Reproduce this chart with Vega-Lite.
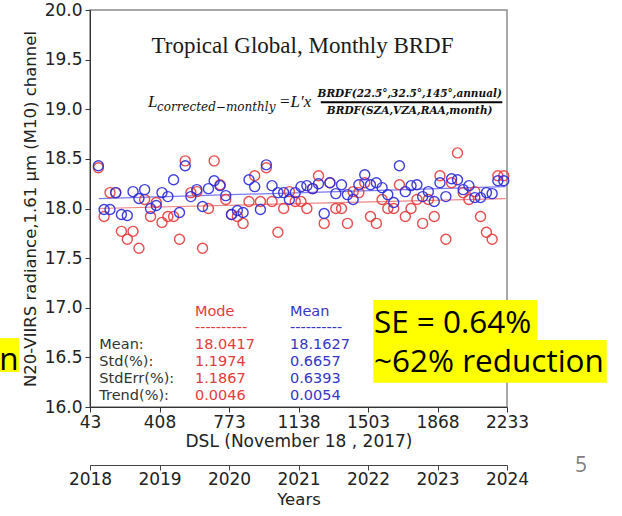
{
  "$schema": "https://vega.github.io/schema/vega-lite/v6.json",
  "width": 417,
  "height": 397,
  "autosize": {"type": "none"},
  "padding": {"left": 90, "top": 10, "right": 115, "bottom": 109},
  "background": "white",
  "config": {
    "view": {"stroke": "#8a8a8a", "strokeWidth": 1.5},
    "font": "DejaVu Sans",
    "axis": {"grid": false, "labelFont": "DejaVu Sans", "titleFont": "DejaVu Sans", "labelOverlap": false}
  },
  "datasets": {
    "monthly": [
      {"dsl": 87, "mode": 18.41, "mean": 18.43},
      {"dsl": 117, "mode": 17.92, "mean": 17.99},
      {"dsl": 148, "mode": 18.16, "mean": 17.99},
      {"dsl": 178, "mode": 18.16, "mean": 18.16},
      {"dsl": 208, "mode": 17.77, "mean": 17.94},
      {"dsl": 239, "mode": 17.69, "mean": 17.93},
      {"dsl": 269, "mode": 17.77, "mean": 18.17},
      {"dsl": 300, "mode": 17.60, "mean": 18.10},
      {"dsl": 330, "mode": 18.09, "mean": 18.19},
      {"dsl": 361, "mode": 17.92, "mean": 18.00},
      {"dsl": 391, "mode": 18.06, "mean": 18.03},
      {"dsl": 421, "mode": 17.86, "mean": 18.16},
      {"dsl": 452, "mode": 17.92, "mean": 18.12},
      {"dsl": 482, "mode": 17.92, "mean": 18.29},
      {"dsl": 513, "mode": 17.69, "mean": 17.96},
      {"dsl": 543, "mode": 18.48, "mean": 18.43},
      {"dsl": 573, "mode": 18.16, "mean": 18.12},
      {"dsl": 604, "mode": 18.17, "mean": 18.19},
      {"dsl": 634, "mode": 17.60, "mean": 18.02},
      {"dsl": 665, "mode": 18.00, "mean": 18.20},
      {"dsl": 695, "mode": 18.48, "mean": 18.28},
      {"dsl": 726, "mode": 18.24, "mean": 18.23},
      {"dsl": 756, "mode": 18.09, "mean": 18.13},
      {"dsl": 786, "mode": 17.94, "mean": 17.94},
      {"dsl": 817, "mode": 17.92, "mean": 17.98},
      {"dsl": 847, "mode": 17.85, "mean": 17.96},
      {"dsl": 878, "mode": 18.07, "mean": 18.29},
      {"dsl": 908, "mode": 18.33, "mean": 18.22},
      {"dsl": 938, "mode": 18.07, "mean": 17.99},
      {"dsl": 969, "mode": 18.41, "mean": 18.44},
      {"dsl": 999, "mode": 18.07, "mean": 18.23},
      {"dsl": 1030, "mode": 17.76, "mean": 18.16},
      {"dsl": 1060, "mode": 18.00, "mean": 18.16},
      {"dsl": 1090, "mode": 18.17, "mean": 18.09},
      {"dsl": 1121, "mode": 18.07, "mean": 18.16},
      {"dsl": 1151, "mode": 18.07, "mean": 18.22},
      {"dsl": 1182, "mode": 18.00, "mean": 18.23},
      {"dsl": 1212, "mode": 18.20, "mean": 18.20},
      {"dsl": 1243, "mode": 18.33, "mean": 18.25},
      {"dsl": 1273, "mode": 17.85, "mean": 17.95},
      {"dsl": 1303, "mode": 18.26, "mean": 18.26},
      {"dsl": 1334, "mode": 18.00, "mean": 18.15},
      {"dsl": 1364, "mode": 18.00, "mean": 18.24},
      {"dsl": 1395, "mode": 17.85, "mean": 18.14},
      {"dsl": 1425, "mode": 18.17, "mean": 18.09},
      {"dsl": 1455, "mode": 18.16, "mean": 18.24},
      {"dsl": 1486, "mode": 18.26, "mean": 18.34},
      {"dsl": 1516, "mode": 17.92, "mean": 18.24},
      {"dsl": 1547, "mode": 17.85, "mean": 18.26},
      {"dsl": 1577, "mode": 18.09, "mean": 18.21},
      {"dsl": 1607, "mode": 18.00, "mean": 18.14},
      {"dsl": 1638, "mode": 18.00, "mean": 18.06},
      {"dsl": 1668, "mode": 18.24, "mean": 18.43},
      {"dsl": 1699, "mode": 17.92, "mean": 18.17},
      {"dsl": 1729, "mode": 18.00, "mean": 18.23},
      {"dsl": 1760, "mode": 18.09, "mean": 18.24},
      {"dsl": 1790, "mode": 17.85, "mean": 18.12},
      {"dsl": 1820, "mode": 18.09, "mean": 18.17},
      {"dsl": 1851, "mode": 17.92, "mean": 18.07},
      {"dsl": 1881, "mode": 18.33, "mean": 18.26},
      {"dsl": 1912, "mode": 17.69, "mean": 18.12},
      {"dsl": 1942, "mode": 18.26, "mean": 18.30},
      {"dsl": 1973, "mode": 18.56, "mean": 18.29},
      {"dsl": 2003, "mode": 18.16, "mean": 18.19},
      {"dsl": 2033, "mode": 18.09, "mean": 18.23},
      {"dsl": 2064, "mode": 18.17, "mean": 18.11},
      {"dsl": 2094, "mode": 17.92, "mean": 18.11},
      {"dsl": 2125, "mode": 17.76, "mean": 18.16},
      {"dsl": 2155, "mode": 17.69, "mean": 18.15},
      {"dsl": 2185, "mode": 18.33, "mean": 18.28},
      {"dsl": 2216, "mode": 18.33, "mean": 18.28}
    ],
    "fits": [
      {"dsl": 90, "mode_fit": 18.00, "mean_fit": 18.10},
      {"dsl": 2225, "mode_fit": 18.10, "mean_fit": 18.22}
    ],
    "years": [{"year": 2018}, {"year": 2024}]
  },
  "data": {"values": [{}]},
  "layer": [
    {
      "layer": [
        {
          "data": {"name": "fits"},
          "mark": {"type": "line", "color": "#f08585", "strokeWidth": 1.2},
          "encoding": {
            "x": {
              "field": "dsl", "type": "quantitative",
              "scale": {"domain": [43, 2233], "nice": false, "zero": false},
              "axis": {
                "values": [43, 408, 773, 1138, 1503, 1868, 2233],
                "format": "d",
                "labelFlush": false,
                "labelFontSize": 17,
                "labelColor": "#222",
                "labelPadding": 2,
                "tickSize": 5,
                "tickColor": "#333",
                "domainColor": "#333",
                "title": "DSL (November 18 , 2017)",
                "titleFontSize": 17,
                "titleFontWeight": "normal",
                "titleColor": "#222",
                "titlePadding": 3
              }
            },
            "y": {
              "field": "mode_fit", "type": "quantitative",
              "scale": {"domain": [16, 20], "nice": false, "zero": false},
              "axis": {
                "values": [16, 16.5, 17, 17.5, 18, 18.5, 19, 19.5, 20],
                "format": ".1f",
                "labelFontSize": 17,
                "labelColor": "#222",
                "labelPadding": 3,
                "tickSize": 5,
                "tickColor": "#333",
                "domainColor": "#333",
                "title": "N20-VIIRS radiance,1.61 µm (M10) channel",
                "titleFontSize": 16.5,
                "titleFontWeight": "normal",
                "titleColor": "#222",
                "titlePadding": 6
              }
            }
          }
        },
        {
          "data": {"name": "fits"},
          "mark": {"type": "line", "color": "#7a7af0", "strokeWidth": 1.2},
          "encoding": {
            "x": {"field": "dsl", "type": "quantitative"},
            "y": {"field": "mean_fit", "type": "quantitative"}
          }
        },
        {
          "data": {"name": "monthly"},
          "mark": {"type": "point", "filled": false, "shape": "circle", "size": 100, "strokeWidth": 1.4, "color": "#e83a3a", "opacity": 0.9},
          "encoding": {
            "x": {"field": "dsl", "type": "quantitative"},
            "y": {"field": "mode", "type": "quantitative"}
          }
        },
        {
          "data": {"name": "monthly"},
          "mark": {"type": "point", "filled": false, "shape": "circle", "size": 100, "strokeWidth": 1.4, "color": "#2b2bdc", "opacity": 0.9},
          "encoding": {
            "x": {"field": "dsl", "type": "quantitative"},
            "y": {"field": "mean", "type": "quantitative"}
          }
        },
        {
          "mark": {"type": "text", "text": "Tropical Global, Monthly BRDF", "font": "Liberation Serif", "fontSize": 23, "align": "center", "baseline": "alphabetic", "color": "#1a1a1a"},
          "encoding": {"x": {"datum": 1159, "type": "quantitative"}, "y": {"datum": 19.567, "type": "quantitative"}}
        },
        {
          "mark": {"type": "text", "text": "L", "font": "Liberation Serif", "fontStyle": "italic", "fontSize": 17, "align": "left", "baseline": "alphabetic", "color": "#111"},
          "encoding": {"x": {"datum": 347, "type": "quantitative"}, "y": {"datum": 19.018, "type": "quantitative"}}
        },
        {
          "mark": {"type": "text", "text": "corrected−monthly", "font": "DejaVu Serif", "fontStyle": "italic", "fontSize": 12, "align": "left", "baseline": "alphabetic", "color": "#111"},
          "encoding": {"x": {"datum": 395, "type": "quantitative"}, "y": {"datum": 18.985, "type": "quantitative"}}
        },
        {
          "mark": {"type": "text", "text": "=L′x", "font": "Liberation Serif", "fontStyle": "italic", "fontSize": 17, "align": "left", "baseline": "alphabetic", "color": "#111"},
          "encoding": {"x": {"datum": 1036, "type": "quantitative"}, "y": {"datum": 19.018, "type": "quantitative"}}
        },
        {
          "mark": {"type": "text", "text": "BRDF(22.5°,32.5°,145°,annual)", "font": "DejaVu Serif", "fontStyle": "italic", "fontWeight": "bold", "fontSize": 10.5, "align": "center", "baseline": "alphabetic", "color": "#111"},
          "encoding": {"x": {"datum": 1722, "type": "quantitative"}, "y": {"datum": 19.126, "type": "quantitative"}}
        },
        {
          "mark": {"type": "rule", "color": "#000", "strokeWidth": 2},
          "encoding": {
            "x": {"datum": 1255, "type": "quantitative"},
            "x2": {"datum": 2208},
            "y": {"datum": 19.07, "type": "quantitative"}
          }
        },
        {
          "mark": {"type": "text", "text": "BRDF(SZA,VZA,RAA,month)", "font": "DejaVu Serif", "fontStyle": "italic", "fontWeight": "bold", "fontSize": 10.5, "align": "center", "baseline": "alphabetic", "color": "#111"},
          "encoding": {"x": {"datum": 1722, "type": "quantitative"}, "y": {"datum": 18.949, "type": "quantitative"}}
        },
        {
          "mark": {"type": "text", "text": "Mode", "fontSize": 14.5, "align": "left", "baseline": "alphabetic", "color": "#e23b3b"},
          "encoding": {"x": {"datum": 594, "type": "quantitative"}, "y": {"datum": 16.917, "type": "quantitative"}}
        },
        {
          "mark": {"type": "text", "text": "----------", "fontSize": 14.5, "align": "left", "baseline": "alphabetic", "color": "#e23b3b"},
          "encoding": {"x": {"datum": 594, "type": "quantitative"}, "y": {"datum": 16.756, "type": "quantitative"}}
        },
        {
          "mark": {"type": "text", "text": "Mean", "fontSize": 14.5, "align": "left", "baseline": "alphabetic", "color": "#3535c8"},
          "encoding": {"x": {"datum": 1093, "type": "quantitative"}, "y": {"datum": 16.917, "type": "quantitative"}}
        },
        {
          "mark": {"type": "text", "text": "----------", "fontSize": 14.5, "align": "left", "baseline": "alphabetic", "color": "#3535c8"},
          "encoding": {"x": {"datum": 1093, "type": "quantitative"}, "y": {"datum": 16.756, "type": "quantitative"}}
        },
        {
          "mark": {"type": "text", "text": ["Mean:", "Std(%):", "StdErr(%):", "Trend(%):"], "lineHeight": 17, "fontSize": 14.5, "align": "left", "baseline": "alphabetic", "color": "#333"},
          "encoding": {"x": {"datum": 92, "type": "quantitative"}, "y": {"datum": 16.584, "type": "quantitative"}}
        },
        {
          "mark": {"type": "text", "text": ["18.0417", "1.1974", "1.1867", "0.0046"], "lineHeight": 17, "fontSize": 14.5, "align": "left", "baseline": "alphabetic", "color": "#e23b3b"},
          "encoding": {"x": {"datum": 594, "type": "quantitative"}, "y": {"datum": 16.584, "type": "quantitative"}}
        },
        {
          "mark": {"type": "text", "text": ["18.1627", "0.6657", "0.6393", "0.0054"], "lineHeight": 17, "fontSize": 14.5, "align": "left", "baseline": "alphabetic", "color": "#3535c8"},
          "encoding": {"x": {"datum": 1093, "type": "quantitative"}, "y": {"datum": 16.584, "type": "quantitative"}}
        },
        {
          "mark": {"type": "rect", "color": "#ffff00"},
          "encoding": {
            "x": {"datum": 1531, "type": "quantitative"}, "x2": {"datum": 2392},
            "y": {"datum": 17.078, "type": "quantitative"}, "y2": {"datum": 16.675}
          }
        },
        {
          "mark": {"type": "rect", "color": "#ffff00"},
          "encoding": {
            "x": {"datum": 1531, "type": "quantitative"}, "x2": {"datum": 2757},
            "y": {"datum": 16.675, "type": "quantitative"}, "y2": {"datum": 16.245}
          }
        },
        {
          "mark": {"type": "rect", "color": "#ffff00"},
          "encoding": {
            "x": {"datum": -430, "type": "quantitative"}, "x2": {"datum": -330},
            "y": {"datum": 16.695, "type": "quantitative"}, "y2": {"datum": 16.353}
          }
        },
        {
          "mark": {"type": "text", "text": "SE = 0.64%", "font": "Open Sans", "fontSize": 31.5, "align": "left", "baseline": "alphabetic", "color": "#000"},
          "encoding": {"x": {"datum": 1534, "type": "quantitative"}, "y": {"datum": 16.749, "type": "quantitative"}}
        },
        {
          "mark": {"type": "text", "text": "~62% reduction", "font": "Open Sans", "fontSize": 31.5, "align": "left", "baseline": "alphabetic", "color": "#000"},
          "encoding": {"x": {"datum": 1534, "type": "quantitative"}, "y": {"datum": 16.356, "type": "quantitative"}}
        },
        {
          "mark": {"type": "text", "text": "n", "font": "Open Sans", "fontSize": 31.5, "align": "right", "baseline": "alphabetic", "color": "#000"},
          "encoding": {"x": {"datum": -332, "type": "quantitative"}, "y": {"datum": 16.373, "type": "quantitative"}}
        },
        {
          "mark": {"type": "text", "text": "5", "font": "Open Sans", "fontSize": 21, "align": "center", "baseline": "alphabetic", "color": "#7f7f7f"},
          "encoding": {"x": {"datum": 2622, "type": "quantitative"}, "y": {"datum": 15.348, "type": "quantitative"}}
        }
      ]
    },
    {
      "data": {"name": "years"},
      "mark": {"type": "tick", "opacity": 0},
      "encoding": {
        "x": {
          "field": "year", "type": "quantitative",
          "scale": {"domain": [2018, 2024], "nice": false, "zero": false},
          "axis": {
            "orient": "bottom",
            "offset": 58,
            "values": [2018, 2019, 2020, 2021, 2022, 2023, 2024],
            "format": "d",
            "labelFlush": false,
            "labelFontSize": 17,
            "labelColor": "#222",
            "labelPadding": 1,
            "tickSize": 5,
            "tickColor": "#444",
            "domainColor": "#444",
            "title": "Years",
            "titleFontSize": 16.5,
            "titleFontWeight": "normal",
            "titleColor": "#222",
            "titlePadding": 4
          }
        }
      }
    }
  ],
  "resolve": {"scale": {"x": "independent"}, "axis": {"x": "independent"}}
}
